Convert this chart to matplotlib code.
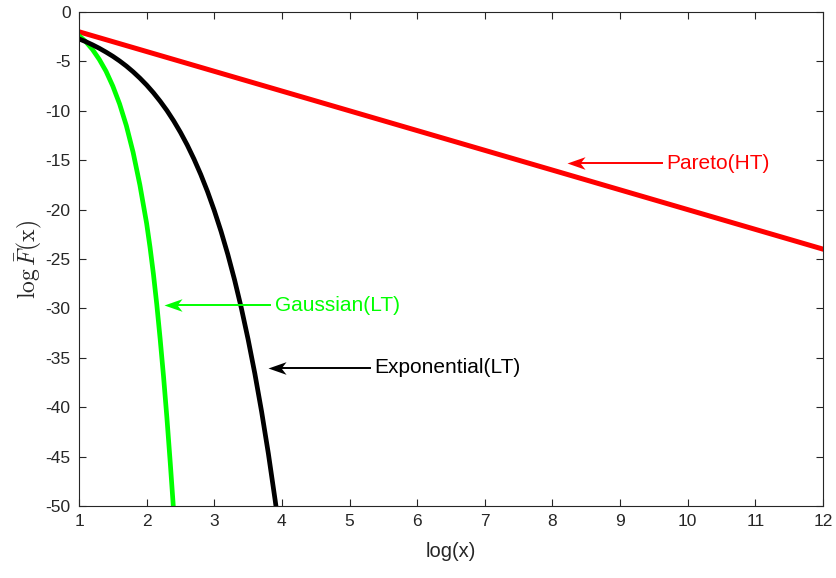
import numpy as np
import matplotlib
matplotlib.use('Agg')
import matplotlib.pyplot as plt
from matplotlib.path import Path

plt.rcParams['font.family'] = ['Liberation Sans', 'DejaVu Sans']
plt.rcParams['mathtext.fontset'] = 'cm'
plt.rcParams['axes.unicode_minus'] = False

# log-survival curves, x axis is log(x)
pareto_t = [1.0, 4.0, 8.0, 12.0]
pareto_y = [-2.0, -8.0, -16.0, -24.0]

expo_t = [1.0, 1.1, 1.2, 1.3, 1.4, 1.5, 1.6, 1.7, 1.8, 1.9, 2.0, 2.1, 2.2,
          2.3, 2.4, 2.5, 2.6, 2.7, 2.8, 2.9, 3.0, 3.1, 3.2, 3.3, 3.4, 3.5,
          3.6, 3.7, 3.8, 3.9, 3.93]
expo_y = [-2.72, -3.00, -3.32, -3.67, -4.06, -4.48, -4.95, -5.47, -6.05,
          -6.69, -7.39, -8.17, -9.03, -9.97, -11.02, -12.18, -13.46, -14.88,
          -16.44, -18.17, -20.09, -22.20, -24.53, -27.11, -29.96, -33.12,
          -36.60, -40.45, -44.70, -49.40, -50.9]

gauss_t = [1.0, 1.1, 1.2, 1.3, 1.4, 1.5, 1.6, 1.7, 1.8, 1.9, 2.0, 2.05,
           2.1, 2.15, 2.2, 2.25, 2.3, 2.35, 2.39, 2.41]
gauss_y = [-2.4, -3.0, -3.8, -4.8, -6.0, -7.5, -9.3, -11.5, -14.2, -17.5,
           -21.4, -23.8, -26.5, -29.6, -33.1, -36.9, -41.1, -45.7, -49.6,
           -51.7]

# annotation arrows: (label, head, tail, colour)
notes = [
    ('Pareto(HT)', (8.21, -15.3), (9.62, -15.3), 'red'),
    ('Gaussian(LT)', (2.25, -29.7), (3.83, -29.7), (0, 1, 0)),
    ('Exponential(LT)', (3.80, -36.0), (5.30, -36.0), 'black'),
]

# swept-back arrow head, tip at the marker origin, pointing left
head = Path([(0, 0), (2, 0.7), (1.45, 0), (2, -0.7), (0, 0)],
            [Path.MOVETO, Path.LINETO, Path.LINETO, Path.LINETO, Path.CLOSEPOLY])

fig = plt.figure(figsize=(8.36, 5.78), dpi=100)
ax = fig.add_axes([0.0945, 0.1246, 0.8899, 0.8546])
axc = '#262626'

ax.plot(pareto_t, pareto_y, color='red', lw=3.6)
ax.plot(gauss_t, gauss_y, color=(0, 1, 0), lw=3.4)
ax.plot(expo_t, expo_y, color='black', lw=3.4)

for label, (hx, hy), (tx, ty), c in notes:
    ax.plot([hx + 0.1, tx], [hy, ty], color=c, lw=1.4)
    ax.plot([hx], [hy], marker=head, markersize=26, color=c,
            markeredgewidth=0, linestyle='none')
    ax.text(tx + 0.07, ty, label, color=c, fontsize=15, va='center', ha='left')

ax.set_xlim(1, 12)
ax.set_ylim(-50, 0)
ax.set_xticks(range(1, 13))
ax.set_yticks(range(-50, 1, 5))
ax.tick_params(direction='in', top=True, right=True, length=5, width=0.8,
               colors=axc, labelsize=12.5, pad=6)
for s in ax.spines.values():
    s.set_color(axc)
    s.set_linewidth(0.8)

ax.set_xlabel('log(x)', fontsize=14.5, color=axc, labelpad=9)
ax.set_ylabel(r'$\log\bar{F}(\mathrm{x})$', fontsize=17, color=axc, labelpad=1)

fig.savefig('out.png', dpi=100)
